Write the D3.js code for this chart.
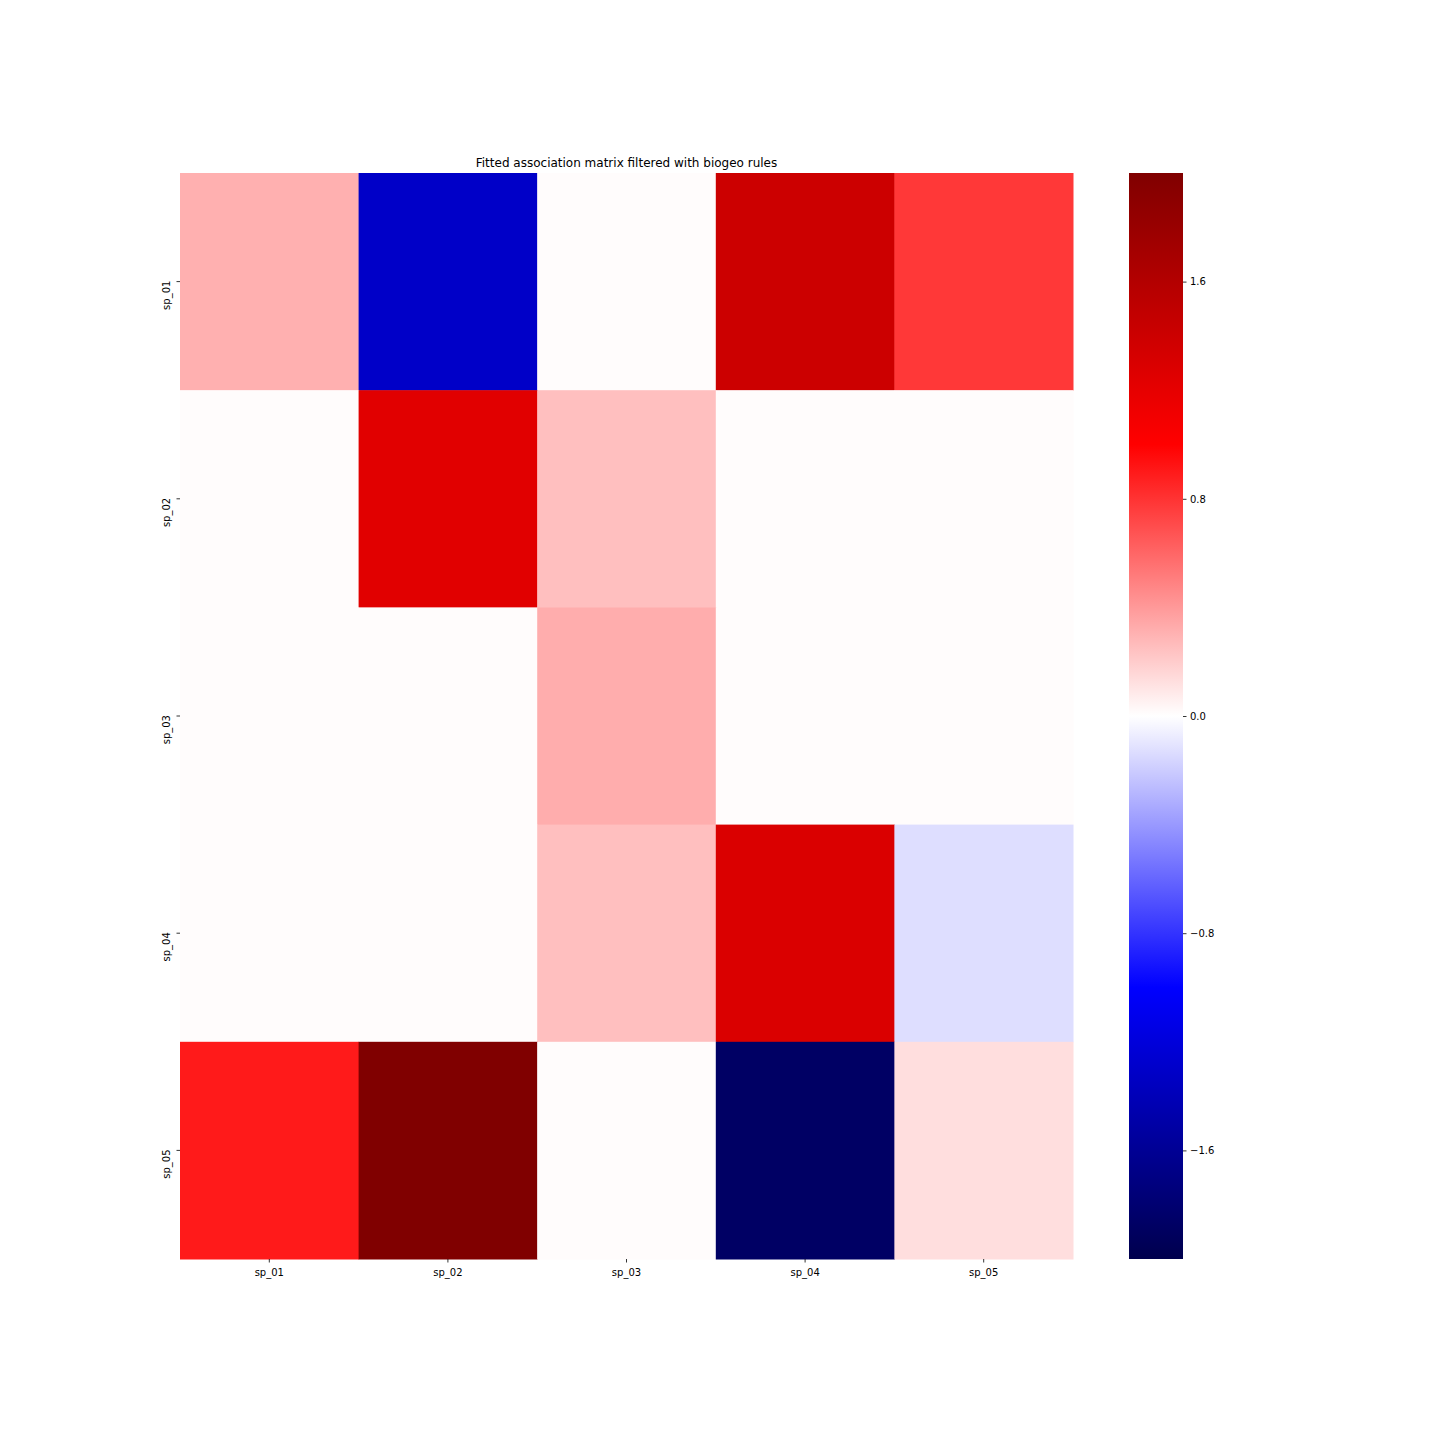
<!DOCTYPE html>
<html lang="en">
<head>
    <meta charset="UTF-8">
    <title>Fitted association matrix</title>
    <script src="https://d3js.org/d3.v7.min.js"></script>
    <style>
        body { margin: 0; background: #fff; }
        text { font-family: "DejaVu Sans", sans-serif; fill: #000; }
    </style>
</head>
<body>
    <svg id="chart" width="1440" height="1440"></svg>

    <script>
        // species names (rows and columns)
        const species = ["sp_01", "sp_02", "sp_03", "sp_04", "sp_05"];

        // association values, one array per row
        const row_sp01 = [0.31, -1.31, 0.01, 1.40, 0.78];
        const row_sp02 = [0.01, 1.24, 0.25, 0.01, 0.01];
        const row_sp03 = [0.01, 0.01, 0.32, 0.01, 0.01];
        const row_sp04 = [0.01, 0.01, 0.25, 1.29, -0.13];
        const row_sp05 = [0.90, 2.00, 0.01, -1.87, 0.13];
        const rows = [row_sp01, row_sp02, row_sp03, row_sp04, row_sp05];

        const cbTicks = [-1.6, -0.8, 0.0, 0.8, 1.6];

        const svg = d3.select("#chart");

        // plot area
        const plotLeft = 180, plotRight = 1073, plotTop = 173, plotBottom = 1259;

        const x = d3.scaleBand().domain(species).range([plotLeft, plotRight]);
        const y = d3.scaleBand().domain(species).range([plotTop, plotBottom]);

        // seismic colormap
        const color = d3.scaleLinear()
            .domain([-2, -1, 0, 1, 2])
            .range(["#00004d", "#0000ff", "#ffffff", "#ff0000", "#800000"])
            .clamp(true);

        const cells = [];
        rows.forEach((r, i) => r.forEach((v, j) => cells.push({ row: species[i], col: species[j], v: v })));

        svg.append("g").selectAll("rect")
            .data(cells)
            .join("rect")
            .attr("x", d => x(d.col))
            .attr("y", d => y(d.row))
            .attr("width", x.bandwidth() + 0.5)
            .attr("height", y.bandwidth() + 0.5)
            .attr("fill", d => color(d.v));

        // axes
        const xAxis = svg.append("g")
            .attr("transform", `translate(0,${plotBottom})`)
            .call(d3.axisBottom(x).tickSize(3.5).tickPadding(6.5));
        xAxis.select(".domain").remove();
        xAxis.selectAll("text").style("font-size", "10px");
        xAxis.selectAll("line").attr("stroke", "#000").attr("stroke-width", 0.8);

        const yAxis = svg.append("g")
            .attr("transform", `translate(${plotLeft},0)`)
            .call(d3.axisLeft(y).tickSize(3.5).tickPadding(3.5));
        yAxis.select(".domain").remove();
        yAxis.selectAll("line").attr("stroke", "#000").attr("stroke-width", 0.8);
        // rotated labels hang below their tick, like matplotlib's rotation=90
        yAxis.selectAll("text")
            .style("font-size", "10px")
            .attr("x", null)
            .attr("dy", "0")
            .attr("text-anchor", "end")
            .attr("transform", "translate(-10,-1) rotate(-90)");

        // title
        svg.append("text")
            .attr("x", (plotLeft + plotRight) / 2)
            .attr("y", 167)
            .attr("text-anchor", "middle")
            .style("font-size", "12px")
            .text("Fitted association matrix filtered with biogeo rules");

        // colorbar
        const cbLeft = 1129, cbWidth = 54;
        const cbScale = d3.scaleLinear().domain([-2, 2]).range([plotBottom, plotTop]);

        const grad = svg.append("defs").append("linearGradient")
            .attr("id", "cbGrad")
            .attr("x1", 0).attr("y1", 1).attr("x2", 0).attr("y2", 0);
        d3.range(0, 1.0001, 0.05).forEach(t => {
            grad.append("stop")
                .attr("offset", t)
                .attr("stop-color", color(-2 + 4 * t));
        });

        svg.append("rect")
            .attr("x", cbLeft)
            .attr("y", plotTop)
            .attr("width", cbWidth)
            .attr("height", plotBottom - plotTop)
            .attr("fill", "url(#cbGrad)");

        const cbAxis = svg.append("g")
            .attr("transform", `translate(${cbLeft + cbWidth},0)`)
            .call(d3.axisRight(cbScale)
                .tickValues(cbTicks)
                .tickSize(3.5)
                .tickPadding(3.5)
                .tickFormat(d => d3.format(".1f")(d).replace("-", "\u2212")));
        cbAxis.select(".domain").remove();
        cbAxis.selectAll("text").style("font-size", "10px");
        cbAxis.selectAll("line").attr("stroke", "#000").attr("stroke-width", 0.8);
    </script>
</body>
</html>
